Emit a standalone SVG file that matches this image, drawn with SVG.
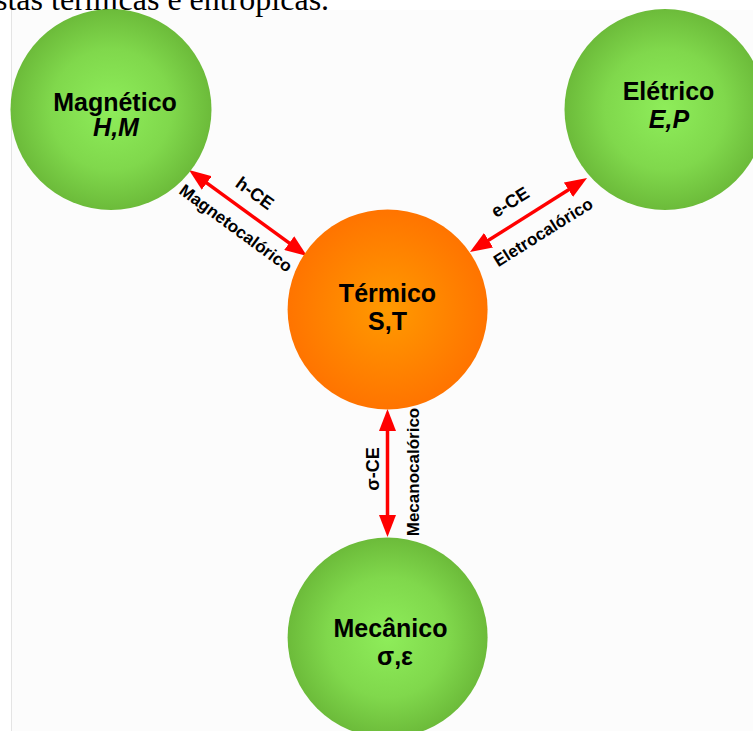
<svg xmlns="http://www.w3.org/2000/svg" width="753" height="731" viewBox="0 0 753 731">
  <defs>
    <radialGradient id="gGreen" cx="50%" cy="50%" r="50%">
      <stop offset="0" stop-color="#8eed5a"/>
      <stop offset="0.6" stop-color="#80d84c"/>
      <stop offset="1" stop-color="#6cbb3a"/>
    </radialGradient>
    <radialGradient id="gOrange" cx="50%" cy="50%" r="50%">
      <stop offset="0" stop-color="#ff9a00"/>
      <stop offset="1" stop-color="#ff7400"/>
    </radialGradient>
    <marker id="head" viewBox="0 0 22 17" markerWidth="22" markerHeight="17" refX="10" refY="8.5" orient="auto-start-reverse" markerUnits="userSpaceOnUse">
      <path d="M0,0 L22,8.5 L0,17 z" fill="#ff0000"/>
    </marker>
  </defs>
  <style>
    .title { font-family: "Liberation Sans", Arial, sans-serif; font-weight: bold; font-size: 25px; fill: #000; text-anchor: middle; }
    .var { font-style: italic; }
    .lbl { font-family: "Liberation Sans", Arial, sans-serif; font-weight: bold; font-size: 18px; fill: #000; text-anchor: middle; }
    .sub { font-family: "Liberation Sans", Arial, sans-serif; font-weight: bold; font-size: 17px; fill: #000; text-anchor: middle; }
    .arrow { stroke: #ff0000; stroke-width: 3.5; fill: none; marker-start: url(#head); marker-end: url(#head); }
    .page { font-family: "Liberation Serif", "Times New Roman", serif; font-size: 32px; fill: #000; }
  </style>

  <rect x="0" y="0" width="753" height="731" fill="#ffffff"/>
  <rect x="11" y="10" width="742" height="721" fill="#fcfcfc"/>
  <line x1="11.5" y1="10" x2="11.5" y2="731" stroke="#e4e4e4" stroke-width="1"/>
  <text class="page" x="-5" y="10">stas térmicas e entrópicas.</text>

  <g id="connectors">
    <line class="arrow" x1="198.7" y1="177.1" x2="297.3" y2="248.9"/>
    <line class="arrow" x1="480.1" y1="245.6" x2="576.9" y2="184.4"/>
    <line class="arrow" x1="387.5" y1="421" x2="387.5" y2="525"/>
    <text class="lbl" transform="translate(255,193) rotate(36.3)" y="6.3">h-CE</text>
    <text class="sub" transform="translate(236,228) rotate(36.3)" y="6">Magnetocalórico</text>
    <text class="lbl" transform="translate(510,202) rotate(-32.2)" y="6.3">e-CE</text>
    <text class="sub" transform="translate(543,232) rotate(-32.2)" y="6">Eletrocalórico</text>
    <text class="lbl" transform="translate(373,469) rotate(-90)" y="6.3">σ-CE</text>
    <text class="sub" transform="translate(413,472) rotate(-90)" y="6">Mecanocalórico</text>
  </g>

  <g id="magnetico">
    <circle cx="111" cy="109.5" r="100.5" fill="url(#gGreen)"/>
    <text class="title" x="115" y="110.7">Magnético</text>
    <text class="title var" x="116" y="136">H,M</text>
  </g>

  <g id="eletrico">
    <circle cx="665" cy="109.5" r="100.5" fill="url(#gGreen)"/>
    <text class="title" x="668.5" y="100">Elétrico</text>
    <text class="title var" x="669" y="128">E,P</text>
  </g>

  <g id="termico">
    <circle cx="387.6" cy="309.5" r="100" fill="url(#gOrange)"/>
    <text class="title" x="387.5" y="301.7">Térmico</text>
    <text class="title" x="387.5" y="330">S,T</text>
  </g>

  <g id="mecanico">
    <circle cx="387.6" cy="637.5" r="100" fill="url(#gGreen)"/>
    <text class="title" x="390.5" y="637">Mecânico</text>
    <text class="title" x="395" y="665">σ,ε</text>
  </g>
</svg>
